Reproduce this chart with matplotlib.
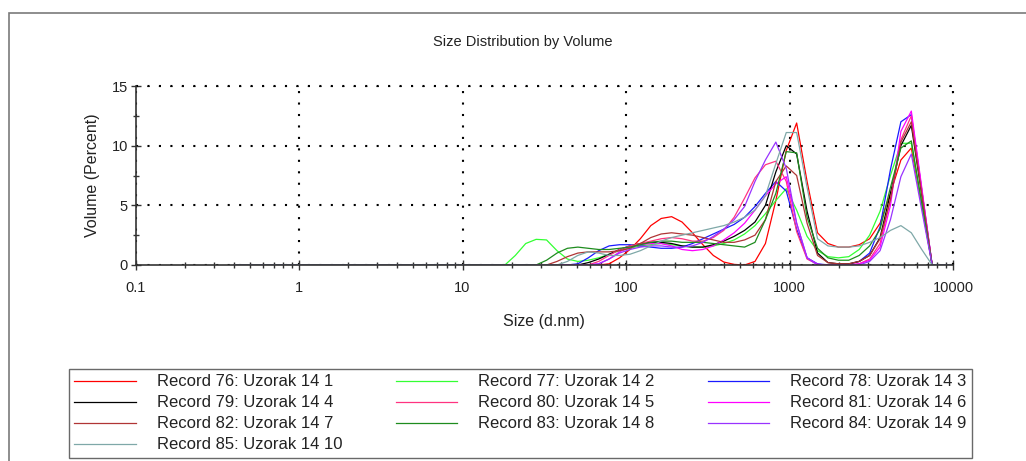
import matplotlib
matplotlib.use('Agg')
import matplotlib.pyplot as plt
from matplotlib.patches import Rectangle
from matplotlib.ticker import LogLocator, MultipleLocator, FixedLocator, FixedFormatter

plt.rcParams['font.family'] = ['Liberation Sans', 'DejaVu Sans']

# size classes (d.nm) of the instrument, 0.4 .. 10000
sizes = [0.4, 0.4632, 0.5365, 0.6213, 0.7195, 0.8332, 0.9649, 1.117, 1.294, 1.499,
         1.736, 2.01, 2.328, 2.696, 3.122, 3.615, 4.187, 4.849, 5.615, 6.503,
         7.531, 8.721, 10.1, 11.7, 13.54, 15.69, 18.17, 21.04, 24.36, 28.21,
         32.67, 37.84, 43.82, 50.75, 58.77, 68.06, 78.82, 91.28, 105.7, 122.4,
         141.8, 164.2, 190.1, 220.2, 255.0, 295.3, 342.0, 396.1, 458.7, 531.2,
         615.1, 712.4, 825.0, 955.4, 1106, 1281, 1484, 1718, 1990, 2305,
         2669, 3091, 3580, 4145, 4801, 5560, 6439, 7456, 8635, 10000]

# volume % for classes 18.17 .. 7456 (all other classes are 0)
vol_76 = [0, 0, 0, 0, 0, 0, 0, 0, 0, 0,
          0.1, 0.6, 1.3, 2.2, 3.3, 3.9, 4.05, 3.6, 2.7, 1.7,
          0.8, 0.25, 0.05, 0.0, 0.3, 1.8, 5.4, 9.6, 11.9, 7.0,
          2.7, 1.8, 1.5, 1.5, 1.7, 2.2, 3.5, 6.0, 8.8, 9.8,
          5.0, 0]
vol_77 = [0, 0.8, 1.8, 2.15, 2.1, 1.2, 0.5, 0.3, 0.4, 0.6,
          0.9, 1.2, 1.4, 1.6, 1.7, 1.8, 1.7, 1.6, 1.5, 1.5,
          1.6, 1.8, 2.1, 2.6, 3.3, 4.3, 5.4, 6.4, 4.6, 2.4,
          1.2, 0.7, 0.6, 0.7, 1.3, 2.5, 4.5, 7.5, 10.2, 10.2,
          5.1, 0]
vol_78 = [0, 0, 0, 0, 0, 0, 0, 0.1, 0.6, 1.2,
          1.6, 1.7, 1.7, 1.6, 1.5, 1.4, 1.4, 1.5, 1.8, 2.2,
          2.6, 3.0, 3.4, 4.0, 4.9, 6.0, 7.0, 6.2, 3.0, 0.6,
          0.1, 0, 0, 0.05, 0.3, 1.0, 3.2, 8.0, 12.0, 12.6,
          6.3, 0]
vol_79 = [0, 0, 0, 0, 0, 0, 0, 0, 0.2, 0.5,
          0.9, 1.3, 1.6, 1.8, 1.9, 1.9, 1.8, 1.6, 1.5, 1.5,
          1.7, 2.0, 2.4, 2.9, 3.6, 5.0, 7.8, 10.0, 9.3, 4.5,
          1.0, 0.2, 0.1, 0.1, 0.3, 0.8, 2.3, 6.0, 10.0, 11.7,
          5.9, 0]
vol_80 = [0, 0, 0, 0, 0, 0, 0, 0, 0, 0.3,
          0.8, 1.3, 1.6, 1.8, 2.0, 2.2, 2.3, 2.2, 2.0, 2.0,
          2.3, 2.9, 4.0, 5.6, 7.3, 8.4, 8.7, 7.0, 2.8, 0.5,
          0.05, 0, 0, 0, 0.1, 0.5, 1.8, 5.5, 10.5, 12.5,
          6.3, 0]
vol_81 = [0, 0, 0, 0, 0, 0, 0, 0, 0, 0.1,
          0.5, 1.1, 1.5, 1.7, 1.8, 1.8, 1.6, 1.3, 1.2, 1.3,
          1.6, 2.1, 2.7, 3.5, 4.6, 5.8, 6.8, 7.4, 3.5, 0.6,
          0.05, 0, 0, 0, 0.1, 0.4, 1.5, 5.0, 11.2, 12.9,
          6.5, 0]
vol_82 = [0, 0, 0, 0, 0, 0.3, 0.7, 1.0, 1.1, 1.1,
          1.1, 1.2, 1.4, 1.8, 2.3, 2.6, 2.7, 2.6, 2.5, 2.3,
          2.1, 1.9, 1.9, 2.1, 2.5, 3.8, 7.0, 8.3, 7.5, 3.5,
          0.8, 0.2, 0.1, 0.1, 0.3, 0.8, 2.2, 5.5, 10.3, 12.0,
          6.0, 0]
vol_83 = [0, 0, 0, 0, 0.4, 1.0, 1.4, 1.5, 1.4, 1.3,
          1.3, 1.4, 1.5, 1.7, 1.9, 2.0, 2.0, 1.9, 1.9, 1.9,
          1.8, 1.7, 1.6, 1.5, 1.9, 3.8, 6.0, 9.5, 9.4, 4.0,
          1.4, 0.6, 0.4, 0.4, 0.8, 1.6, 3.0, 6.5, 9.8, 10.4,
          5.2, 0]
vol_84 = [0, 0, 0, 0, 0, 0, 0, 0, 0, 0.1,
          0.5, 1.0, 1.3, 1.5, 1.6, 1.6, 1.5, 1.5, 1.6, 1.9,
          2.4, 3.0, 3.8, 4.9, 7.0, 8.8, 10.3, 8.1, 3.5, 0.6,
          0, 0, 0, 0, 0, 0.3, 1.2, 3.8, 7.4, 9.3,
          4.6, 0]
vol_85 = [0, 0, 0, 0, 0, 0, 0.3, 0.8, 1.1, 1.0,
          0.8, 0.8, 0.9, 1.2, 1.6, 2.0, 2.3, 2.5, 2.7, 2.9,
          3.1, 3.3, 3.6, 4.0, 4.6, 5.8, 8.5, 11.1, 11.1, 6.5,
          2.2, 1.6, 1.5, 1.5, 1.6, 1.9, 2.3, 2.9, 3.3, 2.7,
          1.3, 0]

labels = ['Record 76: Uzorak 14 1', 'Record 77: Uzorak 14 2', 'Record 78: Uzorak 14 3',
          'Record 79: Uzorak 14 4', 'Record 80: Uzorak 14 5', 'Record 81: Uzorak 14 6',
          'Record 82: Uzorak 14 7', 'Record 83: Uzorak 14 8', 'Record 84: Uzorak 14 9',
          'Record 85: Uzorak 14 10']
series = [vol_76, vol_77, vol_78, vol_79, vol_80, vol_81, vol_82, vol_83, vol_84, vol_85]
colors = ['#ff0000', '#33ff33', '#1a1aff', '#000000', '#ff3380',
          '#ff00ff', '#b03535', '#1e8c1e', '#9933ff', '#7fa8a8']

x_ticks = [0.1, 1, 10, 100, 1000, 10000]
x_tick_labels = ['0.1', '1', '10', '100', '1000', '10000']


def pad(vals):
    # classes below 18.17 and above 7456 are empty
    return [0.0] * 26 + vals + [0.0] * 2


W, H = 1026, 461
fig = plt.figure(figsize=(W / 100, H / 100), dpi=100)
fig.patch.set_facecolor('white')

# grey frame of the report panel (top and left edge visible)
fig.add_artist(Rectangle((9 / W, -0.1), 1.2, 1 - 13 / H + 0.1, transform=fig.transFigure,
                         fill=False, edgecolor='#7a7a7a', linewidth=1.2))

ax = fig.add_axes([135.5 / W, (H - 265) / H, (953 - 135.5) / W, (265 - 86) / H])

lines = []
for vals, lab, col in zip(series, labels, colors):
    ln, = ax.plot(sizes, pad(vals), color=col, linewidth=0.9, label=lab)
    lines.append(ln)

ax.set_xscale('log')
ax.set_xlim(0.1, 10000)
ax.set_ylim(0, 15)

ax.xaxis.set_major_locator(FixedLocator(x_ticks))
ax.xaxis.set_major_formatter(FixedFormatter(x_tick_labels))
ax.xaxis.set_minor_locator(LogLocator(base=10, subs=range(2, 10), numticks=20))
ax.xaxis.set_minor_formatter(plt.NullFormatter())
ax.yaxis.set_major_locator(MultipleLocator(5))
ax.yaxis.set_minor_locator(MultipleLocator(2.5))

ax.tick_params(which='major', direction='inout', length=7, width=1, color='#333333',
               labelsize=10.5, labelcolor='#222222')
ax.tick_params(which='minor', direction='inout', length=5, width=1, color='#333333')
ax.tick_params(axis='x', which='major', pad=8)
ax.tick_params(axis='y', which='major', pad=2)

for side in ['top', 'right']:
    ax.spines[side].set_visible(False)
for side in ['left', 'bottom']:
    ax.spines[side].set_color('#333333')
    ax.spines[side].set_linewidth(1.2)

# dotted grid, also along the top and right border
ax.grid(True, which='major', color='black', linestyle=(0, (1, 4.5)), linewidth=1.5)
ax.axhline(15, color='black', linestyle=(0, (1, 4.5)), linewidth=1.5, clip_on=False)
ax.axvline(10000, color='black', linestyle=(0, (1, 4.5)), linewidth=1.5, clip_on=False)

ax.set_xlabel('Size (d.nm)', fontsize=11.5, color='#222222', labelpad=14)
ax.set_ylabel('Volume (Percent)', fontsize=11.5, color='#222222', labelpad=8)
fig.text(523 / W, 1 - 42 / H, 'Size Distribution by Volume', ha='center', va='center',
         fontsize=10.5, color='#222222')

# legend fills row by row in the original
order = [0, 3, 6, 9, 1, 4, 7, 2, 5, 8]
leg = fig.legend([lines[i] for i in order], [labels[i] for i in order], ncol=3,
                 loc='upper left', bbox_to_anchor=(69 / W, 1 / H, 903 / W, 91 / H),
                 mode='expand', fontsize=12, frameon=True, fancybox=False,
                 handlelength=3.7, handletextpad=1.25, borderpad=0.32, labelspacing=0.36,
                 borderaxespad=0)
leg.get_frame().set_edgecolor('#444444')
leg.get_frame().set_linewidth(1)
for t in leg.get_texts():
    t.set_color('#222222')

fig.savefig('out.png', dpi=100)
